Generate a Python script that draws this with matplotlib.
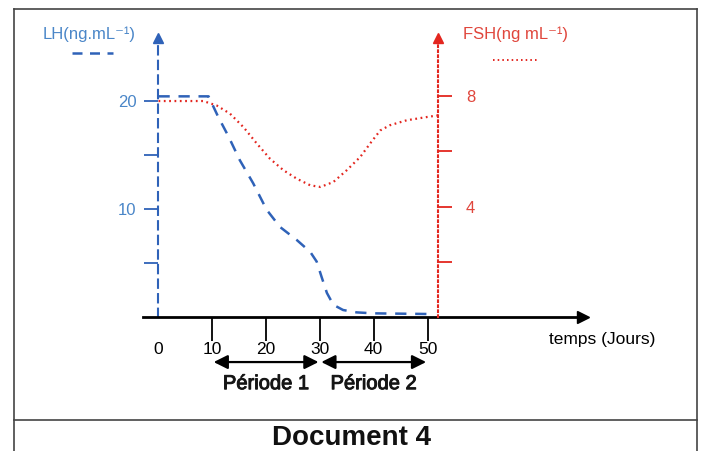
import matplotlib
matplotlib.use("Agg")
import matplotlib.pyplot as plt
import matplotlib.patheffects as pe
from matplotlib.lines import Line2D

plt.rcParams['font.family'] = ['Liberation Sans', 'DejaVu Sans']

# data
days_lh = [0, 9.3, 11.1, 13.0, 15.1, 17.6, 20.1, 22.6, 25.7, 28.2, 29.4, 30.3,
           31.3, 32.5, 34.3, 36.8, 39.9, 49.9]
lh = [20.4, 20.4, 18.5, 16.7, 14.5, 12.35, 9.9, 8.3, 7.1, 6.0, 5.1, 3.7,
      2.2, 1.1, 0.62, 0.4, 0.31, 0.25]

days_fsh = [0, 8.3, 10.8, 13.3, 15.8, 18.3, 20.7, 23.2, 25.7, 28.2, 30.1, 32.5,
            35.0, 37.5, 39.3, 41.2, 43.0, 46.1, 49.9, 52.0]
fsh = [7.83, 7.83, 7.67, 7.37, 6.88, 6.28, 5.74, 5.32, 5.01, 4.77, 4.71, 4.89,
       5.32, 5.80, 6.28, 6.76, 6.95, 7.13, 7.25, 7.31]

day_ticks = [0, 10, 20, 30, 40, 50]
lh_ticks = [5, 10, 15, 20]
lh_labels = ['', '10', '', '20']
fsh_ticks = [2, 4, 6, 8]
fsh_labels = ['', '4', '', '8']
periods = [(10, 30, 'Période 1'), (30, 50, 'Période 2')]

BLUE = '#2f62b8'
BLUE_TXT = '#4a86c8'
RED = '#e3261f'
RED_TXT = '#e0463c'

fig = plt.figure(figsize=(7.02, 4.51), dpi=100)
ax = fig.add_axes([0.2037, 0.2978, 0.6268, 0.6179])
ax.set_xlim(-2.88, 78.9)
ax.set_ylim(0, 25.8)

# LH curve
ax.plot(days_lh, lh, color=BLUE, lw=1.8, linestyle=(0, (4.5, 3.5)), clip_on=False)

# spines
for s in ['top', 'right']:
    ax.spines[s].set_visible(False)
ax.spines['bottom'].set_linewidth(2)
ax.spines['bottom'].set_color('black')
ax.spines['left'].set_position(('data', 0))
ax.spines['left'].set_color(BLUE)
ax.spines['left'].set_linewidth(1.5)
ax.spines['left'].set_linestyle((0, (4, 3)))

ax.set_xticks(day_ticks, [str(d) for d in day_ticks])
ax.tick_params(axis='x', direction='out', length=17, width=1.3, pad=1.5, labelsize=12.5)
ax.xaxis.get_major_ticks()[0].tick1line.set_visible(False)
ax.set_yticks(lh_ticks, lh_labels)
ax.tick_params(axis='y', direction='out', length=10, width=1.3, color=BLUE,
               labelcolor=BLUE_TXT, pad=6, labelsize=12)

# arrow heads
ax.plot(0, 25.8, marker='^', color=BLUE, ms=7, clip_on=False)
ax.plot(78.9, 0, marker='>', color='black', ms=9, clip_on=False)

# FSH axis
ax2 = ax.twinx()
ax2.set_ylim(0, 25.8 / 2.55)
ax2.plot(days_fsh, fsh, color=RED, lw=1.6, linestyle=(0, (0.8, 1.6)), clip_on=False)
for s in ['top', 'left', 'bottom']:
    ax2.spines[s].set_visible(False)
ax2.spines['right'].set_position(('data', 52))
ax2.spines['right'].set_color(RED)
ax2.spines['right'].set_linewidth(1.5)
ax2.spines['right'].set_linestyle((0, (0.8, 1.6)))
ax2.set_yticks(fsh_ticks, fsh_labels)
ax2.tick_params(axis='y', direction='out', length=10, width=1.3, color=RED,
                labelcolor=RED_TXT, pad=10, labelsize=12)
ax2.plot(52, 25.8 / 2.55, marker='^', color=RED, ms=7, clip_on=False)

# periods
for a, b, name in periods:
    ax.annotate('', xy=(a, -4.2), xytext=(b, -4.2), annotation_clip=False,
                arrowprops=dict(arrowstyle='<|-|>,head_length=0.7,head_width=0.35',
                                color='black', lw=1.6,
                                mutation_scale=12, shrinkA=1, shrinkB=1))
    ax.text((a + b) / 2, -6.2, name, ha='center', va='center', fontsize=14.5,
            color='#151515', clip_on=False,
            path_effects=[pe.withStroke(linewidth=0.7, foreground='#151515')])

ax.text(72.5, -2.1, 'temps (Jours)', ha='left', va='center', fontsize=12.5)

# axis labels and legend samples
fig.text(43 / 702, 1 - 34 / 451, 'LH(ng.mL⁻¹)', color=BLUE_TXT, fontsize=12,
         ha='left', va='center')
fig.add_artist(Line2D([72 / 702, 113 / 702], [1 - 53 / 451] * 2, color=BLUE,
                      lw=1.8, linestyle=(0, (4, 3))))
fig.text(463 / 702, 1 - 34 / 451, 'FSH(ng mL⁻¹)', color=RED_TXT, fontsize=12,
         ha='left', va='center')
fig.add_artist(Line2D([493 / 702, 537 / 702], [1 - 60 / 451] * 2, color=RED,
                      lw=1.4, linestyle=(0, (0.8, 1.6))))

# document frame
frame = dict(color='#444444', lw=1.2)
fig.add_artist(Line2D([14 / 702, 697 / 702], [1 - 9 / 451] * 2, **frame))
fig.add_artist(Line2D([14 / 702, 14 / 702], [0, 1 - 9 / 451], **frame))
fig.add_artist(Line2D([697 / 702, 697 / 702], [0, 1 - 9 / 451], **frame))
fig.add_artist(Line2D([14 / 702, 697 / 702], [1 - 420 / 451] * 2, **frame))
fig.text(352 / 702, 1 - 438 / 451, 'Document 4', fontsize=20, fontweight='bold',
         ha='center', va='center', color='#111111')

fig.savefig('out.png', dpi=100)
